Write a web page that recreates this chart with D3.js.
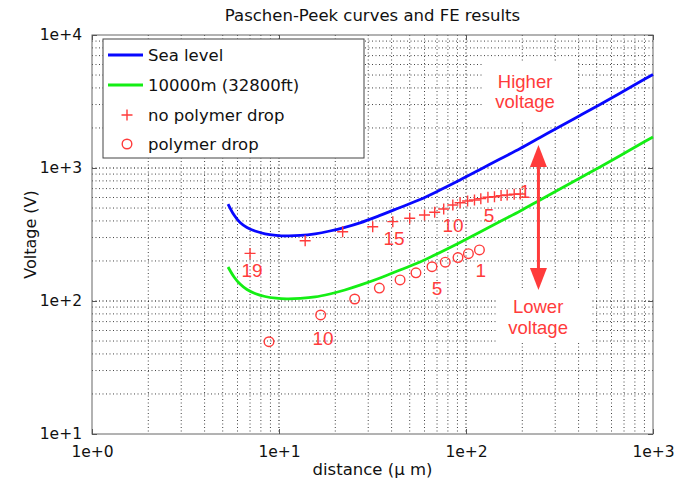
<!DOCTYPE html>
<html>
<head>
<meta charset="utf-8">
<script src="https://cdn.jsdelivr.net/npm/d3@7"></script>
<style>
  body { margin: 0; background: #fff; }
  svg { display: block; }
  text { font-family: "DejaVu Sans", Verdana, sans-serif; }
</style>
</head>
<body>
<svg id="chart" width="693" height="484"></svg>
<script>
// ---------------- data ----------------
const title = "Paschen-Peek curves and FE results";
const xLabel = "distance (\u03bc m)";
const yLabel = "Voltage (V)";
const xTickValues = [1, 10, 100, 1000];
const xTickLabels = ["1e+0", "1e+1", "1e+2", "1e+3"];
const yTickValues = [10, 100, 1000, 10000];
const yTickLabels = ["1e+1", "1e+2", "1e+3", "1e+4"];

// curve sample distances (µm)
const curveD = [5.34, 5.75, 6.19, 6.74, 7.44, 8.42, 9.64, 11.0, 13.0, 15.6, 18.7, 22.5, 27.1, 34.7,
                44.4, 56.8, 72.6, 92.9, 119, 152, 195, 249, 318, 407, 521, 666, 852, 1000];
// Sea level Paschen-Peek curve (V)
const seaLevelV = [536, 443, 389, 357, 336, 320, 312, 309, 311, 320, 336, 358, 387, 440,
                   505, 580, 683, 812, 974, 1169, 1402, 1696, 2051, 2481, 3002, 3651, 4448, 5047];
// 10000 m (32800 ft) curve (V)
const altV = [180, 151.5, 134, 122, 113.9, 108.1, 105, 103.9, 104.6, 107.2, 112.9, 121, 131.5, 148.9,
              171, 196.5, 231.6, 275.4, 330, 396, 475, 575, 695, 841, 1017, 1237, 1508, 1711];

// no polymer drop (+), points numbered from right to left
const noDropD = [195, 181, 166, 154, 142, 131, 120, 111, 102, 93, 85, 76, 68, 60, 50, 40.6, 31.7, 21.9, 13.8, 7.0];
const noDropV = [638, 634, 627, 620, 608, 602, 588, 574, 565, 548, 527, 492, 465, 443, 419, 395, 362, 332, 284, 228];
// polymer drop (o)
const dropD = [118, 103, 90.6, 77.5, 65.8, 54, 44.4, 34.4, 25.4, 16.7, 8.84];
const dropV = [242, 227, 212, 196, 181, 163, 144, 125, 103.5, 78.5, 49.4];

// point number labels
const numLabelText = ["19", "15", "10", "5", "1", "1", "5", "10"];
const numLabelD = [7.17, 41.2, 85.2, 133, 207, 120, 70, 17.2];
const numLabelV = [151, 264, 330, 393, 595, 151, 111, 46.7];

// annotations
const noteLines = [["Higher", "voltage"], ["Lower", "voltage"]];
const noteD = [207, 243];
const noteV = [[4000, 2830], [81.3, 56.5]];
const arrowD = 244;
const arrowTopV = 1490;
const arrowBottomV = 121;

const legendLabels = ["Sea level", "10000m (32800ft)", "no polymer drop", "polymer drop"];

// ---------------- layout ----------------
const L = 92, R = 653, T = 35, B = 434;
const blue = "#0808ff", green = "#14ee14", red = "#ff3b3b";

const svg = d3.select("#chart");
const x = d3.scaleLog().domain([1, 1000]).range([L, R]);
const y = d3.scaleLog().domain([10, 10000]).range([B, T]);

// grid
const grid = svg.append("g");
[1, 10, 100].forEach(dec => {
  for (let m = 1; m <= 9; m++) {
    const v = dec * m;
    if (v <= 1) continue;
    grid.append("line")
      .attr("x1", x(v)).attr("x2", x(v)).attr("y1", T).attr("y2", B)
      .attr("stroke", m === 1 ? "#000" : "#444").attr("stroke-width", 1)
      .attr("stroke-dasharray", "1,2.5");
  }
});
[10, 100, 1000].forEach(dec => {
  for (let m = 1; m <= 9; m++) {
    const v = dec * m;
    if (v <= 10) continue;
    grid.append("line")
      .attr("y1", y(v)).attr("y2", y(v)).attr("x1", L).attr("x2", R)
      .attr("stroke", m === 1 ? "#000" : "#444").attr("stroke-width", 1)
      .attr("stroke-dasharray", "1,2.5");
  }
});

// axes box
svg.append("rect").attr("x", L).attr("y", T).attr("width", R - L).attr("height", B - T)
  .attr("fill", "none").attr("stroke", "#666").attr("stroke-width", 1);

const axB = d3.axisBottom(x).tickValues(xTickValues).tickFormat((d, i) => xTickLabels[i]).tickSizeInner(-5).tickSizeOuter(0).tickPadding(12);
const gx = svg.append("g").attr("transform", `translate(0,${B})`).call(axB);
const axL = d3.axisLeft(y).tickValues(yTickValues).tickFormat((d, i) => yTickLabels[i]).tickSizeInner(-5).tickSizeOuter(0).tickPadding(10);
const gy = svg.append("g").attr("transform", `translate(${L},0)`).call(axL);
const axT = d3.axisTop(x).tickValues(xTickValues).tickFormat("").tickSizeInner(-5).tickSizeOuter(0);
svg.append("g").attr("transform", `translate(0,${T})`).call(axT).select(".domain").remove();
const axR = d3.axisRight(y).tickValues(yTickValues).tickFormat("").tickSizeInner(-5).tickSizeOuter(0);
svg.append("g").attr("transform", `translate(${R},0)`).call(axR).select(".domain").remove();
[gx, gy].forEach(g => g.select(".domain").remove());
svg.selectAll(".tick line").attr("stroke", "#555");
svg.selectAll(".tick text").attr("fill", "#111").style("font-size", "15.5px").style("font-family", "DejaVu Sans");

// annotation background boxes
svg.append("rect").attr("x", 484).attr("y", 62).attr("width", 93).attr("height", 58).attr("fill", "#fff");
svg.append("rect").attr("x", 497).attr("y", 290).attr("width", 93).attr("height", 53).attr("fill", "#fff");

// curves
const line = d3.line().x(d => x(d[0])).y(d => y(d[1])).curve(d3.curveCatmullRom.alpha(0.5));
svg.append("path").datum(curveD.map((d, i) => [d, seaLevelV[i]]))
  .attr("d", line).attr("fill", "none").attr("stroke", blue).attr("stroke-width", 2.8);
svg.append("path").datum(curveD.map((d, i) => [d, altV[i]]))
  .attr("d", line).attr("fill", "none").attr("stroke", green).attr("stroke-width", 2.8);

// markers
const plusSize = 5.5;
svg.append("g").selectAll("path").data(noDropD.map((d, i) => [d, noDropV[i]])).join("path")
  .attr("d", d => {
    const px = x(d[0]), py = y(d[1]);
    return `M${px - plusSize},${py}H${px + plusSize}M${px},${py - plusSize}V${py + plusSize}`;
  })
  .attr("stroke", red).attr("stroke-width", 1.4).attr("fill", "none");
svg.append("g").selectAll("circle").data(dropD.map((d, i) => [d, dropV[i]])).join("circle")
  .attr("cx", d => x(d[0])).attr("cy", d => y(d[1])).attr("r", 4.8)
  .attr("stroke", red).attr("stroke-width", 1.4).attr("fill", "none");

// number labels
svg.append("g").selectAll("text").data(numLabelText).join("text")
  .attr("x", (d, i) => x(numLabelD[i])).attr("y", (d, i) => y(numLabelV[i]))
  .attr("text-anchor", "middle").attr("fill", red)
  .style("font-family", "Liberation Sans, Arial, sans-serif").style("font-size", "19px")
  .text(d => d);

// notes
noteLines.forEach((lines, k) => {
  lines.forEach((t, j) => {
    svg.append("text").attr("x", x(noteD[k])).attr("y", y(noteV[k][j]))
      .attr("text-anchor", "middle").attr("fill", red)
      .style("font-family", "Liberation Sans, Arial, sans-serif").style("font-size", "18.5px")
      .text(t);
  });
});

// double arrow
const ax = x(arrowD), ay1 = y(arrowTopV), ay2 = y(arrowBottomV);
const headL = 22, headW = 8.5;
svg.append("line").attr("x1", ax).attr("x2", ax).attr("y1", ay1 + headL - 2).attr("y2", ay2 - headL + 2)
  .attr("stroke", red).attr("stroke-width", 3);
svg.append("path").attr("d", `M${ax},${ay1}L${ax - headW},${ay1 + headL}L${ax + headW},${ay1 + headL}Z`).attr("fill", red);
svg.append("path").attr("d", `M${ax},${ay2}L${ax - headW},${ay2 - headL}L${ax + headW},${ay2 - headL}Z`).attr("fill", red);

// legend
const lg = svg.append("g");
lg.append("rect").attr("x", 103).attr("y", 39).attr("width", 261).attr("height", 119)
  .attr("fill", "#fff").attr("stroke", "#444").attr("stroke-width", 1);
const rowY = [55, 85, 115, 144];
legendLabels.forEach((t, i) => {
  lg.append("text").attr("x", 148).attr("y", rowY[i]).attr("dy", "0.36em")
    .style("font-size", "16.5px").attr("fill", "#111").text(t);
});
lg.append("line").attr("x1", 108).attr("x2", 143).attr("y1", rowY[0]).attr("y2", rowY[0]).attr("stroke", blue).attr("stroke-width", 2.8);
lg.append("line").attr("x1", 108).attr("x2", 143).attr("y1", rowY[1]).attr("y2", rowY[1]).attr("stroke", green).attr("stroke-width", 2.8);
lg.append("path").attr("d", `M${127 - plusSize},${rowY[2]}H${127 + plusSize}M127,${rowY[2] - plusSize}V${rowY[2] + plusSize}`)
  .attr("stroke", red).attr("stroke-width", 1.4);
lg.append("circle").attr("cx", 127).attr("cy", rowY[3]).attr("r", 4.8).attr("stroke", red).attr("stroke-width", 1.4).attr("fill", "none");

// titles
svg.append("text").attr("x", (L + R) / 2).attr("y", 21).attr("text-anchor", "middle")
  .style("font-size", "16.5px").attr("fill", "#111").text(title);
svg.append("text").attr("x", (L + R) / 2).attr("y", 475).attr("text-anchor", "middle")
  .style("font-size", "16.5px").attr("fill", "#111").text(xLabel);
svg.append("text").attr("transform", `translate(36,${(T + B) / 2}) rotate(-90)`).attr("text-anchor", "middle")
  .style("font-size", "16px").attr("fill", "#111").text(yLabel);
</script>
</body>
</html>
